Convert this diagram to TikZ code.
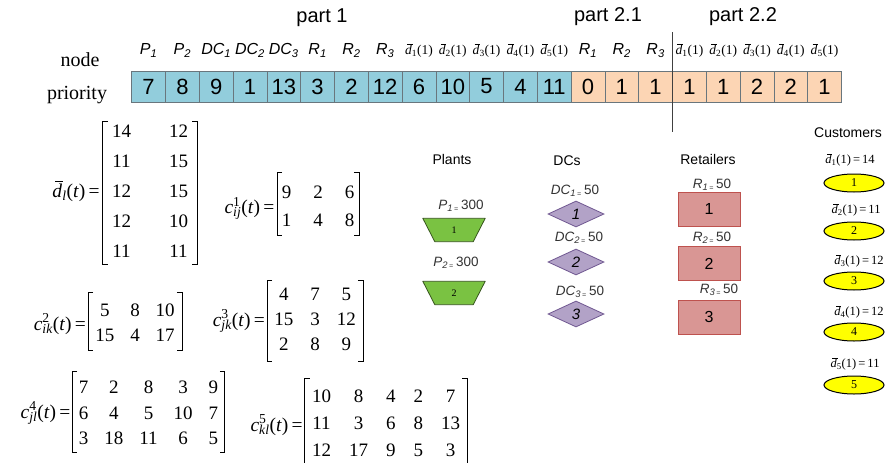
\documentclass[tikz,border=0pt]{standalone}
\usepackage{fontspec}
\setmainfont{Liberation Serif}
\newfontfamily\arial{Liberation Sans}
\usetikzlibrary{matrix,shapes.geometric}

\definecolor{cellblue}{RGB}{146,205,220}
\definecolor{cellorange}{RGB}{252,213,180}
\definecolor{cellline}{RGB}{105,118,125}
\definecolor{plantfill}{RGB}{122,194,66}
\definecolor{plantline}{RGB}{55,85,30}
\definecolor{dcfill}{RGB}{178,162,199}
\definecolor{dcline}{RGB}{112,88,145}
\definecolor{retfill}{RGB}{217,150,148}
\definecolor{retline}{RGB}{190,82,78}
\definecolor{custfill}{RGB}{255,255,0}

% d with an overbar, in italic text
\newcommand\dbar{\leavevmode\rlap{\kern0.14em\raisebox{0.78em}{\rule{0.42em}{0.045em}}}\textit{d}}
% header of a table column: letter(s) with subscript
\newcommand\hn[2]{#1\textsubscript{#2}}
% header of a demand column
\newcommand\hd[1]{{\rmfamily\upshape\fontsize{13.5}{13.5}\selectfont\dbar\textsubscript{#1}(1)}}
% capacity label such as P1 = 300
\newcommand\capty[3]{{\itshape #1}\textsubscript{\itshape #2\,\fontsize{7}{7}\selectfont=}\,#3}
% cost matrix label c^a_{bc}(t) =
\newcommand\costlab[2]{\textit{c}\rlap{\textsuperscript{#1}}\textsubscript{\itshape #2}(\textit{t})\,=}
% bracket pair around a matrix: name, side pad, top pad, bottom pad
\newcommand\brk[4]{%
  \draw[brkline] ([xshift=-#2+5pt,yshift=#3]#1.north west) -| ([xshift=-#2,yshift=-#4]#1.south west) -- ++(5,0);
  \draw[brkline] ([xshift=#2-5pt,yshift=#3]#1.north east) -| ([xshift=#2,yshift=-#4]#1.south east) -- ++(-5,0);}
% plant: a trapezoid, wide side up, drawn on the frame of a named box
\newcommand\plant[3]{%
  \node[plantbox] (#1) at (#2) {};
  \filldraw[plantshape] (#1.north west) -- (#1.north east) -- ([xshift=-12pt]#1.south east)
    -- ([xshift=12pt]#1.south west) -- cycle;
  \node[planttxt] (#1t) at (#1.center) {#3};}

\tikzset{
  cellb/.style={draw=cellline, line width=0.6pt, fill=cellblue, minimum width=33.8pt, minimum height=31pt,
    inner sep=0pt, font=\arial\fontsize{22}{22}\selectfont},
  cello/.style={cellb, fill=cellorange},
  hdr/.style={inner sep=0pt, anchor=base, font=\arial\itshape\fontsize{16}{16}\selectfont},
  parttxt/.style={inner sep=0pt, font=\arial\fontsize{20}{20}\selectfont},
  rowtxt/.style={inner sep=0pt, anchor=base, font=\fontsize{20}{20}\selectfont},
  mat/.style={matrix of nodes, inner sep=0pt,
    nodes={inner sep=0pt, text height=12.8pt, text depth=0pt, font=\fontsize{19}{19}\selectfont}},
  mlab/.style={inner sep=0pt, anchor=east, font=\fontsize{19.5}{19.5}\selectfont},
  brkline/.style={line width=0.9pt, black},
  grouptxt/.style={inner sep=0pt, font=\arial\fontsize{14}{14}\selectfont},
  captxt/.style={inner sep=0pt, font=\arial\fontsize{13.5}{13.5}\selectfont, text=black!80},
  plantbox/.style={rectangle, minimum width=62pt, minimum height=23pt, inner sep=0pt},
  plantshape/.style={fill=plantfill, draw=plantline, line width=0.8pt, line join=round},
  planttxt/.style={inner sep=0pt, font=\fontsize{10}{10}\selectfont},
  dc/.style={diamond, aspect=2.2, minimum width=56pt, minimum height=26pt, inner sep=0pt,
    fill=dcfill, draw=dcline, line width=0.8pt, font=\arial\itshape\fontsize{15}{15}\selectfont},
  retail/.style={rectangle, minimum width=62pt, minimum height=34pt, inner sep=0pt,
    fill=retfill, draw=retline, line width=0.8pt, font=\arial\fontsize{16}{16}\selectfont},
  cust/.style={ellipse, minimum width=60pt, minimum height=18pt, inner sep=0pt,
    fill=custfill, draw=black, line width=1pt, font=\fontsize{12}{12}\selectfont},
  custlab/.style={inner sep=0pt, font=\fontsize{12.5}{12.5}\selectfont},
  divider/.style={line width=1pt, black!75}
}

\begin{document}
\begin{tikzpicture}[x=1pt,y=-1pt]
\fill[white] (0,0) rectangle (889,463);
\useasboundingbox (0,0) rectangle (889,463);

% ---- part titles
\node[parttxt] (p1) at (322,18) {part 1};
\node[parttxt] (p21) at (608,17) {part 2.1};
\node[parttxt] (p22) at (743,17) {part 2.2};

% ---- row titles
\node[rowtxt] (rnode) at (80,66) {node};
\node[rowtxt] (rprio) at (77,99) {priority};

% ---- priority string
\foreach \v [count=\i] in {7,8,9,1,13,3,2,12,6,10,5,4,11}
  \node[cellb] (c\i) at (114.8+33.8*\i,86.5) {\v};
\foreach \v [count=\i from 14] in {0,1,1,1,1,2,2,1}
  \node[cello] (c\i) at (114.8+33.8*\i,86.5) {\v};

\foreach \t [count=\i] in {{\hn{P}{1}},{\hn{P}{2}},{\hn{DC}{1}},{\hn{DC}{2}},{\hn{DC}{3}},
    {\hn{R}{1}},{\hn{R}{2}},{\hn{R}{3}},{\hd{1}},{\hd{2}},{\hd{3}},{\hd{4}},{\hd{5}},
    {\hn{R}{1}},{\hn{R}{2}},{\hn{R}{3}},{\hd{1}},{\hd{2}},{\hd{3}},{\hd{4}},{\hd{5}}}
  \node[hdr] (h\i) at ([yshift=16pt]c\i.north) {\t};

% divider between part 2.1 and part 2.2
\coordinate (divtop) at (672.5,32);
\coordinate (divbot) at (672.5,132);
\draw[divider] (divtop) -- (divbot);

% ---- demand matrix
\matrix (md) [mat, column sep=38pt, row sep=17.2pt] at (150,191.5) {
  14 & 12 \\ 11 & 15 \\ 12 & 15 \\ 12 & 10 \\ 11 & 11 \\};
\brk{md}{9pt}{3pt}{6pt}
\node[mlab] (ld) at ([xshift=-12pt]md.west) {\dbar\textsubscript{\itshape l}(\textit{t})\,=};

% ---- cost matrices
\matrix (mc1) [mat, column sep=22pt, row sep=15.2pt] at (318,206.5) {
  9 & 2 & 6 \\ 1 & 4 & 8 \\};
\brk{mc1}{4.5pt}{13pt}{8pt}
\node[mlab] (l1) at ([xshift=-7pt,yshift=-2pt]mc1.west) {\costlab{1}{ij}};

\matrix (mc2) [mat, column sep=16pt, row sep=12.2pt] at (135,323) {
  5 & 8 & 10 \\ 15 & 4 & 17 \\};
\brk{mc2}{7pt}{11pt}{8pt}
\node[mlab] (l2) at ([xshift=-9pt,yshift=-1pt]mc2.west) {\costlab{2}{ik}};

\matrix (mc3) [mat, column sep=17pt, row sep=12.2pt] at (315,319) {
  4 & 7 & 5 \\ 15 & 3 & 12 \\ 2 & 8 & 9 \\};
\brk{mc3}{7pt}{7pt}{11pt}
\node[mlab] (l3) at ([xshift=-9pt,yshift=-2pt]mc3.west) {\costlab{3}{jk}};

\matrix (mc4) [mat, column sep=16pt, row sep=12.7pt] at (148.5,413) {
  7 & 2 & 8 & 3 & 9 \\ 6 & 4 & 5 & 10 & 7 \\ 3 & 18 & 11 & 6 & 5 \\};
\brk{mc4}{6.5pt}{9pt}{7pt}
\node[mlab] (l4) at ([xshift=-8pt]mc4.west) {\costlab{4}{jl}};

\matrix (mc5) [mat, column sep=18pt, row sep=14.2pt] at (386,423) {
  10 & 8 & 4 & 2 & 7 \\ 11 & 3 & 6 & 8 & 13 \\ 12 & 17 & 9 & 5 & 3 \\};
\brk{mc5}{7pt}{11pt}{7pt}
\node[mlab] (l5) at ([xshift=-9pt,yshift=-2pt]mc5.west) {\costlab{5}{kl}};

% ---- plants
\node[grouptxt] (gp) at (452,159) {Plants};
\node[captxt] (cp1) at (461,206) {\capty{P}{1}{300}};
\plant{pl1}{454,230}{1}
\node[captxt] (cp2) at (456,263) {\capty{P}{2}{300}};
\plant{pl2}{454,293}{2}

% ---- distribution centres
\node[grouptxt] (gd) at (567,161) {DCs};
\node[captxt] (cd1) at (575,191) {\capty{DC}{1}{50}};
\node[dc] (dc1) at (576,214) {1};
\node[captxt] (cd2) at (579,238) {\capty{DC}{2}{50}};
\node[dc] (dc2) at (576,262) {2};
\node[captxt] (cd3) at (580,292) {\capty{DC}{3}{50}};
\node[dc] (dc3) at (576,314) {3};

% ---- retailers
\node[grouptxt] (gr) at (708,159) {Retailers};
\node[captxt] (cr1) at (712,185) {\capty{R}{1}{50}};
\node[retail] (r1) at (709,209) {1};
\node[captxt] (cr2) at (712,238) {\capty{R}{2}{50}};
\node[retail] (r2) at (709,263.5) {2};
\node[captxt] (cr3) at (719,290) {\capty{R}{3}{50}};
\node[retail] (r3) at (709,317) {3};

% ---- customers
\node[grouptxt] (gc) at (848,133) {Customers};
\foreach \n/\dm/\ly/\lx/\ey in {1/14/160/850/183, 2/11/210/856/231, 3/12/261/859/281, 4/12/312/859/332, 5/11/364/855/385}{
  \node[custlab] (cl\n) at (\lx,\ly) {\dbar\textsubscript{\n}(1)\,=\,\dm};
  \node[cust] (cu\n) at (854,\ey) {\n};
}
\end{tikzpicture}
\end{document}
